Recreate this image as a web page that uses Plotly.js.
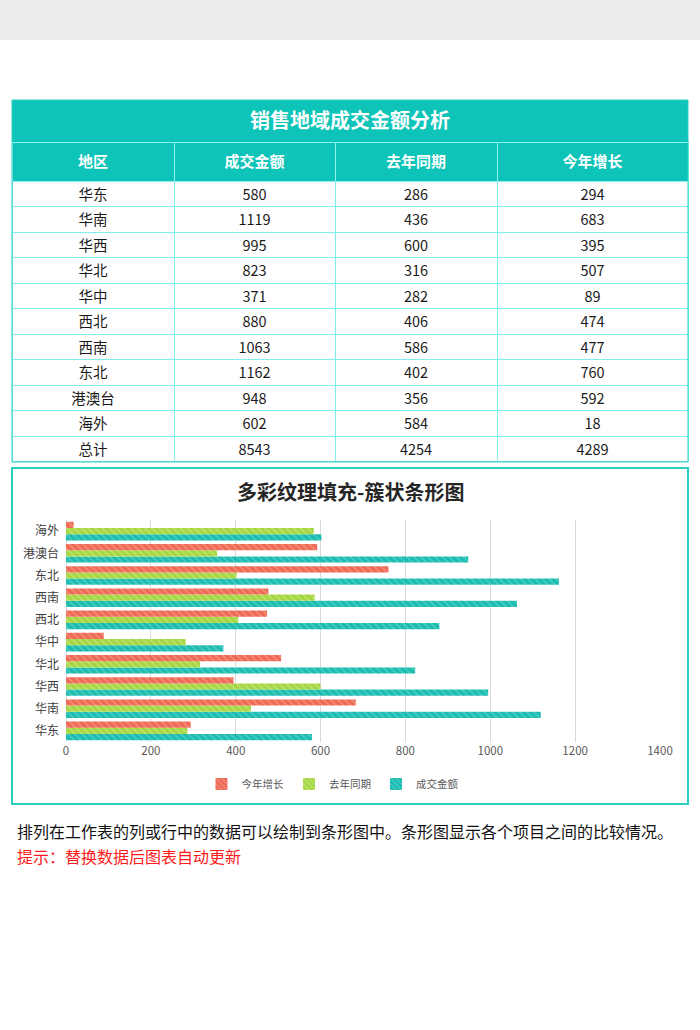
<!DOCTYPE html>
<html><head><meta charset="utf-8">
<script src="https://cdn.plot.ly/plotly-3.0.1.min.js"></script>
<style>html,body{margin:0;padding:0;background:#fff;}#p{width:700px;height:1030px;}</style>
</head><body><div id="p"></div>
<script>
const regions = ['华东','华南','华西','华北','华中','西北','西南','东北','港澳台','海外'];
const amount = [580,1119,995,823,371,880,1063,1162,948,602];
const lastYear = [286,436,600,316,282,406,586,402,356,584];
const growth = [294,683,395,507,89,474,477,760,592,18];
const totalLabel = '总计';
const headers = ['地区','成交金额','去年同期','今年增长'];
const tableTitle = '销售地域成交金额分析';
const chartTitle = '多彩纹理填充-簇状条形图';
const note1 = '排列在工作表的列或行中的数据可以绘制到条形图中。条形图显示各个项目之间的比较情况。';
const note2 = '提示：替换数据后图表自动更新';

const sum = a => a.reduce((s,v)=>s+v,0);
const W=700,H=1030;
const px = x=>x/W, py = y=>1-y/H;
const FONT = '"Noto Sans CJK SC", "Microsoft YaHei", sans-serif';
const TEAL = '#0ec4b8';

const colRegion = regions.concat([totalLabel]);
const colAmount = amount.concat([sum(amount)]);
const colLast = lastYear.concat([sum(lastYear)]);
const colGrowth = growth.concat([sum(growth)]);

const table = {
  type:'table',
  domain:{x:[px(12),px(688)], y:[py(462), py(142)]},
  columnwidth:[162,161,162,191],
  header:{values:headers.map(h=>'<b>'+h+'</b>'), align:'center', height:39,
    fill:{color:TEAL}, line:{color:'#8ff3ef', width:1},
    font:{family:FONT, size:15, color:'#ffffff'}},
  cells:{values:[colRegion,colAmount,colLast,colGrowth], align:'center', height:25.5,
    fill:{color:'#ffffff'}, line:{color:'#7eeeee', width:1},
    font:{family:FONT, size:14.5, color:'#1a1a1a'}}
};

function bar(name, vals, color, fg){
  return {type:'bar', orientation:'h', name:name, x:vals, y:regions,
    xaxis:'x', yaxis:'y',
    marker:{color:color, pattern:{shape:'\\', fgcolor:fg, bgcolor:color, size:5, solidity:0.3}},
    hoverinfo:'x+y'};
}
const traces = [
  table,
  bar(headers[1], amount, '#1cbcb0', '#4ccdc3'),
  bar(headers[2], lastYear, '#a6d743', '#bde36f'),
  bar(headers[3], growth, '#ef6a55', '#f48d7c')
];

const layout = {
  width:W, height:H, margin:{l:0,r:0,t:0,b:0},
  paper_bgcolor:'#ffffff', plot_bgcolor:'rgba(0,0,0,0)',
  showlegend:true,
  barmode:'group', bargap:0.16, bargroupgap:0,
  font:{family:FONT},
  xaxis:{domain:[px(66),px(660)], anchor:'y', range:[0,1400], dtick:200, tick0:0,
    showgrid:true, gridcolor:'#d9d9d9', gridwidth:1, zeroline:true, zerolinecolor:'#d9d9d9',
    showline:false, ticks:'', tickfont:{family:FONT,size:11.5,color:'#595959'}, fixedrange:true},
  yaxis:{domain:[py(742),py(520)], anchor:'x', type:'category', categoryorder:'array', categoryarray:regions,
    showgrid:false, zeroline:false, showline:false, ticks:'', ticklabelstandoff:6,
    tickfont:{family:FONT,size:12,color:'#404040'}, fixedrange:true},
  legend:{orientation:'h', x:0.475, xanchor:'center', y:py(784), yanchor:'middle',
    traceorder:'reversed', font:{family:FONT,size:10.5,color:'#595959'}, itemwidth:30},
  shapes:[
    {type:'rect', xref:'paper', yref:'paper', x0:0, x1:1, y0:py(40), y1:1, fillcolor:'#ececec', line:{width:0}, layer:'below'},
    {type:'rect', xref:'paper', yref:'paper', x0:px(12), x1:px(688), y0:py(142), y1:py(100), fillcolor:TEAL, line:{width:0}},
    {type:'rect', xref:'paper', yref:'paper', x0:px(12), x1:px(688), y0:py(462), y1:py(100), line:{color:'#2ccfc2', width:1}},
    {type:'rect', xref:'paper', yref:'paper', x0:px(12), x1:px(688), y0:py(804), y1:py(468), line:{color:'#2ccfc2', width:2}}
  ],
  annotations:[
    {xref:'paper', yref:'paper', x:0.5, y:py(120), text:'<b>'+tableTitle+'</b>', showarrow:false,
      font:{family:FONT, size:20, color:'#ffffff'}, xanchor:'center', yanchor:'middle'},
    {xref:'paper', yref:'paper', x:0.5, y:py(491), text:'<b>'+chartTitle+'</b>', showarrow:false,
      font:{family:FONT, size:20, color:'#262626'}, xanchor:'center', yanchor:'middle'},
    {xref:'paper', yref:'paper', x:px(15), y:py(831), text:note1, showarrow:false,
      font:{family:FONT, size:16, color:'#111111'}, xanchor:'left', yanchor:'middle'},
    {xref:'paper', yref:'paper', x:px(15), y:py(856), text:note2, showarrow:false,
      font:{family:FONT, size:16, color:'#ff1a1a'}, xanchor:'left', yanchor:'middle'}
  ]
};
Plotly.newPlot('p', traces, layout, {displayModeBar:false});
</script></body></html>
